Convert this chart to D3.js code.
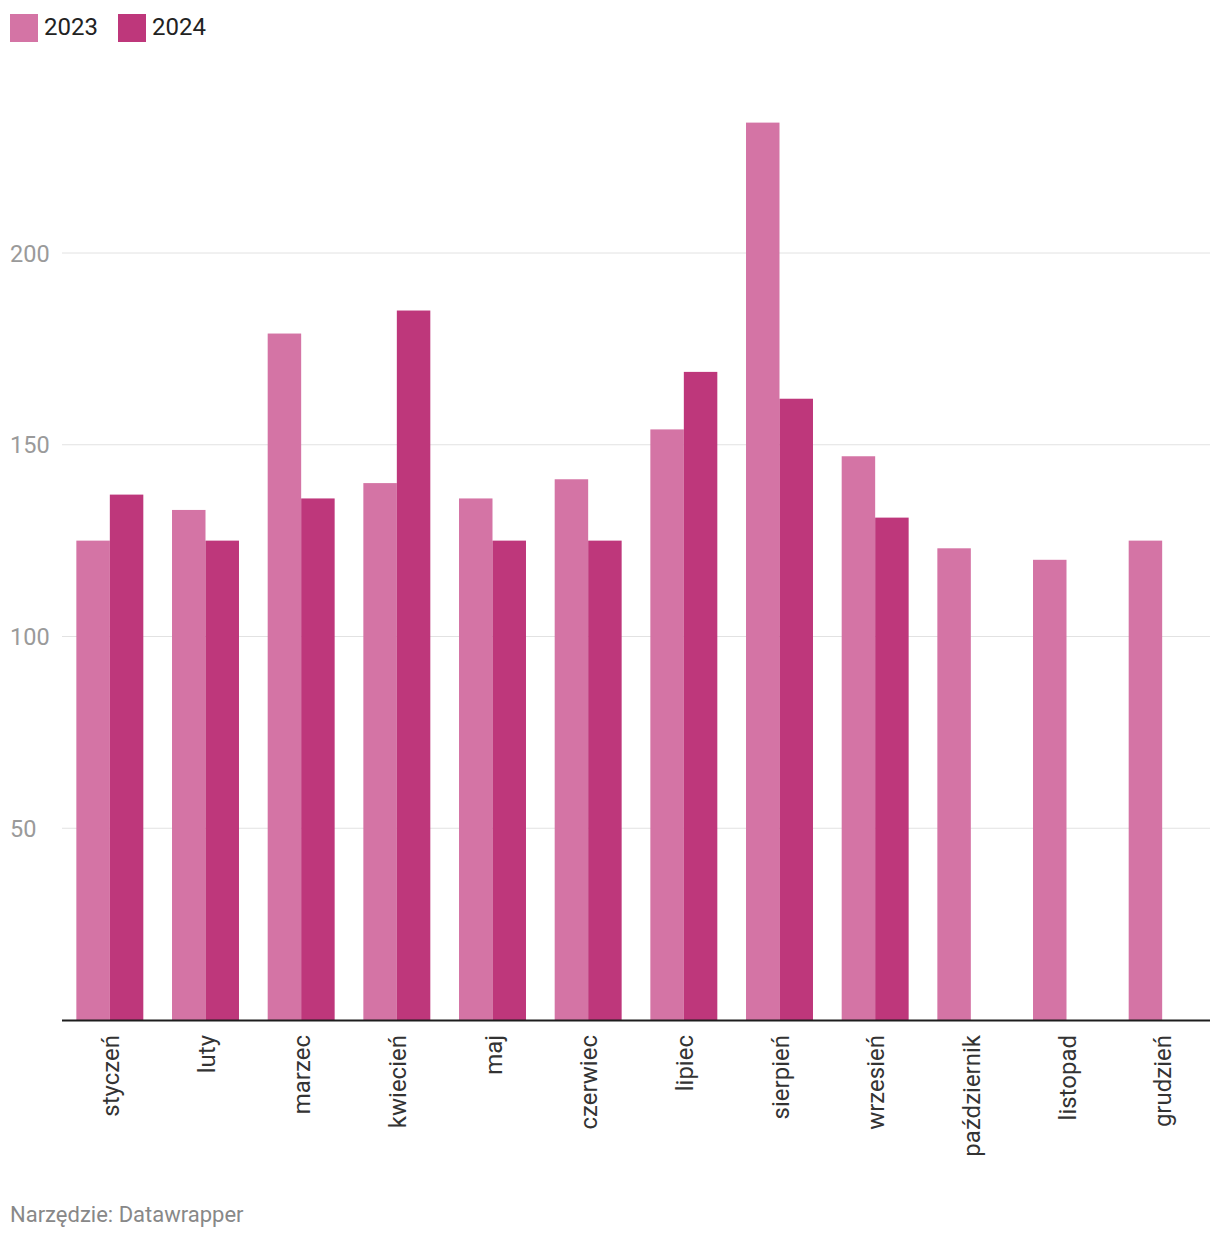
<!DOCTYPE html>
<html><head><meta charset="utf-8">
<script src="https://cdn.jsdelivr.net/npm/d3@7"></script>
<style>
body{margin:0;background:#fff;font-family:Roboto,"Noto Sans",sans-serif;}
</style></head>
<body><svg id="c" width="1220" height="1240"></svg>
<script>
const months = ["styczeń","luty","marzec","kwiecień","maj","czerwiec","lipiec","sierpień","wrzesień","październik","listopad","grudzień"];
const seriesNames = ["2023","2024"];
const values2023 = [125,133,179,140,136,141,154,234,147,123,120,125];
const values2024 = [137,125,136,185,125,125,169,162,131,null,null,null];
const yTicks = [50,100,150,200];
const colors = ["#d474a5","#be377b"];

const svg = d3.select("#c");
const left = 62, right = 1210, y0 = 1020;
const x = d3.scaleBand().domain(months).range([left,right]).paddingInner(0.3).paddingOuter(0.15);
const xs = d3.scaleBand().domain(seriesNames).range([0,x.bandwidth()]);
const y = d3.scaleLinear().domain([0,200]).range([y0,253]);

// grid
const g = svg.append("g");
g.selectAll("line.grid").data(yTicks).join("line")
 .attr("x1",left).attr("x2",right)
 .attr("y1",d=>y(d)).attr("y2",d=>y(d))
 .attr("stroke","#e2e2e2").attr("stroke-width",1);
g.selectAll("text.yl").data(yTicks).join("text")
 .attr("x",10).attr("y",d=>y(d)+8.5)
 .attr("font-size",23.5).attr("fill","#9a9a9a").text(d=>d);

// bars
const data = months.map((m,i)=>({m, vals:[values2023[i],values2024[i]]}));
const grp = svg.append("g").selectAll("g").data(data).join("g")
 .attr("transform",d=>`translate(${x(d.m)},0)`);
grp.selectAll("rect").data(d=>d.vals.map((v,j)=>({k:seriesNames[j],v,j})).filter(e=>e.v!=null))
 .join("rect")
 .attr("x",e=>xs(e.k)).attr("width",xs.bandwidth())
 .attr("y",e=>y(e.v)).attr("height",e=>y0-y(e.v))
 .attr("fill",e=>colors[e.j]);

// axis line
svg.append("line").attr("x1",left).attr("x2",right).attr("y1",y0+0.5).attr("y2",y0+0.5)
 .attr("stroke","#1d1d1d").attr("stroke-width",2);

// x labels
svg.append("g").selectAll("text").data(months).join("text")
 .attr("transform",d=>`translate(${x(d)+x.bandwidth()/2+9},${y0+15}) rotate(-90)`)
 .attr("text-anchor","end").attr("font-size",24).attr("fill","#333").text(d=>d);

// legend
const leg = svg.append("g");
const legX = [10,118];
seriesNames.forEach((s,i)=>{
  leg.append("rect").attr("x",legX[i]).attr("y",14).attr("width",28).attr("height",28).attr("fill",colors[i]);
  leg.append("text").attr("x",legX[i]+34).attr("y",35).attr("font-size",24).attr("fill","#222").text(s);
});

// footer
svg.append("text").attr("x",10).attr("y",1222).attr("font-size",22).attr("fill","#888").text("Narzędzie: Datawrapper");
</script></body></html>
